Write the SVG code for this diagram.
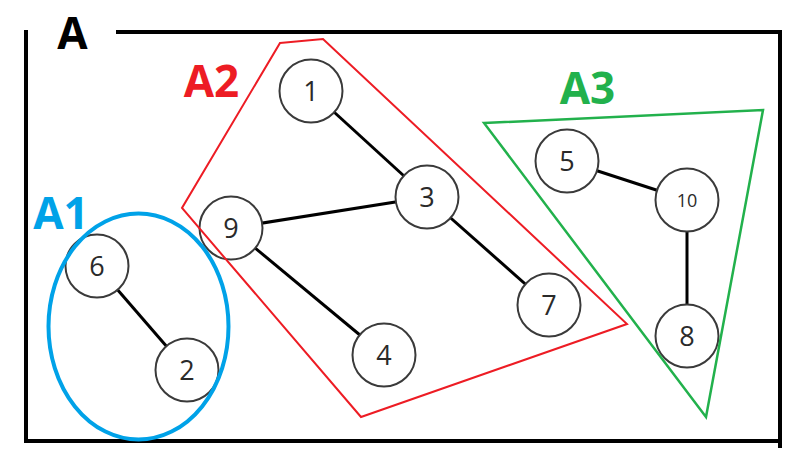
<svg xmlns="http://www.w3.org/2000/svg" width="810" height="471" viewBox="0 0 810 471">
<style>
.frame{fill:none;stroke:#000;stroke-width:4;stroke-linecap:square}
.set{fill:none;stroke-linejoin:miter}
.lab{font-family:"Open Sans","Liberation Sans",sans-serif;font-weight:700;font-size:44px;text-anchor:middle}
.edge{stroke:#000;stroke-width:3}
.node circle{fill:#fff;stroke:#3a3a3a;stroke-width:2}
.node text{font-family:"Open Sans","Liberation Sans",sans-serif;font-size:27px;fill:#2a2a2a;text-anchor:middle}
.node text.small{font-size:18px}
</style>
<rect width="810" height="471" fill="#fff"/>
<g id="frame">
<polyline class="frame" points="118,32 780,32 780,446"/>
<polyline class="frame" points="26,32 26,441 780,441"/>
<text class="lab" x="72.5" y="49" fill="#000">A</text>
</g>
<g id="connectors">
<line class="edge" x1="311" y1="91" x2="427" y2="197"/>
<line class="edge" x1="231" y1="228" x2="427" y2="197"/>
<line class="edge" x1="231" y1="228" x2="384" y2="355"/>
<line class="edge" x1="427" y1="197" x2="549" y2="305"/>
<line class="edge" x1="97" y1="266" x2="187" y2="370"/>
<line class="edge" x1="567" y1="161" x2="687" y2="200"/>
<line class="edge" x1="687" y1="200" x2="687" y2="336"/>
</g>
<g id="node-1" class="node"><circle cx="311" cy="91" r="31.5"/><text x="311" y="100.5">1</text></g>
<g id="node-3" class="node"><circle cx="427" cy="197" r="31.5"/><text x="427" y="206.5">3</text></g>
<g id="node-9" class="node"><circle cx="231" cy="228" r="31.5"/><text x="231" y="237.5">9</text></g>
<g id="node-4" class="node"><circle cx="384" cy="355" r="31.5"/><text x="384" y="364.5">4</text></g>
<g id="node-7" class="node"><circle cx="549" cy="305" r="31.5"/><text x="549" y="314.5">7</text></g>
<g id="node-6" class="node"><circle cx="97" cy="266" r="31.5"/><text x="97" y="275.5">6</text></g>
<g id="node-2" class="node"><circle cx="187" cy="370" r="31.5"/><text x="187" y="379.5">2</text></g>
<g id="node-5" class="node"><circle cx="567" cy="161" r="31.5"/><text x="567" y="170.5">5</text></g>
<g id="node-10" class="node"><circle cx="687" cy="200" r="31.5"/><text class="small" x="687" y="206.5">10</text></g>
<g id="node-8" class="node"><circle cx="687" cy="336" r="31.5"/><text x="687" y="345.5">8</text></g>
<g id="set-A1">
<ellipse cx="138.5" cy="326.5" rx="90" ry="113" fill="none" stroke="#00A2E8" stroke-width="4"/>
<text class="lab" x="61" y="229" fill="#00A2E8">A1</text>
</g>
<g id="set-A2">
<polygon class="set" points="280,43 323,39 627,324 361,417 182,208" stroke="#ED1C24" stroke-width="2"/>
<text class="lab" x="211.5" y="97" fill="#ED1C24">A2</text>
</g>
<g id="set-A3">
<polygon class="set" points="484,123 763,110 706,417" stroke="#22B14C" stroke-width="2.5"/>
<text class="lab" x="587.5" y="104" fill="#22B14C">A3</text>
</g>
</svg>
